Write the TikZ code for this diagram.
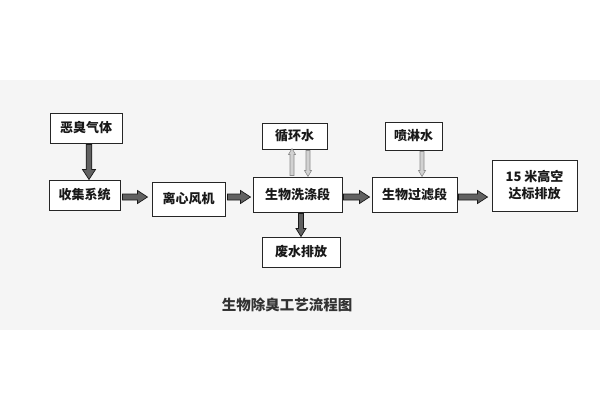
\documentclass[tikz,border=0pt]{standalone}
\usepackage{fontspec}
\newfontfamily\cjk{Noto Sans CJK SC}
\usetikzlibrary{calc}
\tikzset{
  box/.style={draw=black!85,line width=1pt,fill=white,inner sep=0pt,align=center,
    font=\cjk\bfseries\fontsize{13}{17}\selectfont,text=black!90},
  bigarrow/.style={fill=black!62,draw=black!90,line width=0.7pt,line join=miter},
  wetarrow/.style={fill=black!18,draw=black!45,line width=0.6pt},
  titletext/.style={font=\cjk\bfseries\fontsize{14.5}{17}\selectfont,text=black!80}
}
% horizontal arrow to the right: style, shaft half, head half, head length, start, end
\newcommand\harr[6]{\path let \p1=(#5), \p2=(#6) in [#1]
  (\x1,\y1+#2) -- (\x2-#4,\y1+#2) -- (\x2-#4,\y1+#3) -- (\x2,\y1) -- (\x2-#4,\y1-#3) -- (\x2-#4,\y1-#2) -- (\x1,\y1-#2) -- cycle;}
% vertical arrow downward
\newcommand\darr[6]{\path let \p1=(#5), \p2=(#6) in [#1]
  (\x1-#2,\y1) -- (\x1-#2,\y2+#4) -- (\x1-#3,\y2+#4) -- (\x1,\y2) -- (\x1+#3,\y2+#4) -- (\x1+#2,\y2+#4) -- (\x1+#2,\y1) -- cycle;}
% vertical arrow upward
\newcommand\uarr[6]{\path let \p1=(#5), \p2=(#6) in [#1]
  (\x1-#2,\y1) -- (\x1-#2,\y2-#4) -- (\x1-#3,\y2-#4) -- (\x1,\y2) -- (\x1+#3,\y2-#4) -- (\x1+#2,\y2-#4) -- (\x1+#2,\y1) -- cycle;}
\begin{document}
\begin{tikzpicture}[x=1pt,y=-1pt]
\useasboundingbox (0,0) rectangle (600,400);
\fill[white] (0,0) rectangle (600,400);
\fill[black!4] (0,80) rectangle (600,330);

\node[box,minimum width=72pt,minimum height=30pt] (n1) at (86,128) {恶臭气体};
\node[box,minimum width=71pt,minimum height=30pt] (n2) at (84.5,195) {收集系统};
\node[box,minimum width=73pt,minimum height=34pt] (n3) at (188.5,199) {离心风机};
\node[box,minimum width=65pt,minimum height=26pt] (n4) at (294.5,136) {循环水};
\node[box,minimum width=89pt,minimum height=35pt] (n5) at (297.5,194.5) {生物洗涤段};
\node[box,minimum width=78pt,minimum height=30pt] (n6) at (301,252) {废水排放};
\node[box,minimum width=57pt,minimum height=28pt] (n7) at (413.5,136) {喷淋水};
\node[box,minimum width=85pt,minimum height=35pt] (n8) at (414.5,194.5) {生物过滤段};
\node[box,minimum width=85pt,minimum height=51pt] (n9) at (534.5,185.5) {15 米高空\\达标排放};
\node[titletext] (t) at (287,305) {生物除臭工艺流程图};

% main flow arrows
\darr{bigarrow}{2.8pt}{6.5pt}{10pt}{$(n1.south)+(3,1)$}{$(n2.north)+(4.5,0)$}
\harr{bigarrow}{3pt}{6.5pt}{10pt}{$(n2.east)+(2,2)$}{$(n3.west)+(-4,0)$}
\harr{bigarrow}{3pt}{6.5pt}{10pt}{$(n3.east)+(2,-2)$}{$(n5.west)+(-2,0)$}
\harr{bigarrow}{3pt}{6.5pt}{10pt}{$(n5.east)+(1,2.5)$}{$(n8.west)+(-2,0)$}
\harr{bigarrow}{3pt}{6.5pt}{10pt}{$(n8.east)+(1,2.5)$}{$(n9.west)+(-4,0)$}
\darr{bigarrow}{2.5pt}{5pt}{8pt}{$(n5.south)+(3.5,1)$}{$(n6.north)+(0,0)$}

% water arrows
\uarr{wetarrow}{2pt}{3.5pt}{6pt}{$(n5.north)+(-5.5,-1)$}{$(n4.south)+(-2.5,-1)$}
\darr{wetarrow}{2pt}{3.5pt}{6pt}{$(n4.south)+(13.5,1)$}{$(n5.north)+(10.5,0)$}
\darr{wetarrow}{2pt}{3.5pt}{6pt}{$(n7.south)+(8.5,1)$}{$(n8.north)+(7.5,0)$}
\end{tikzpicture}
\end{document}
